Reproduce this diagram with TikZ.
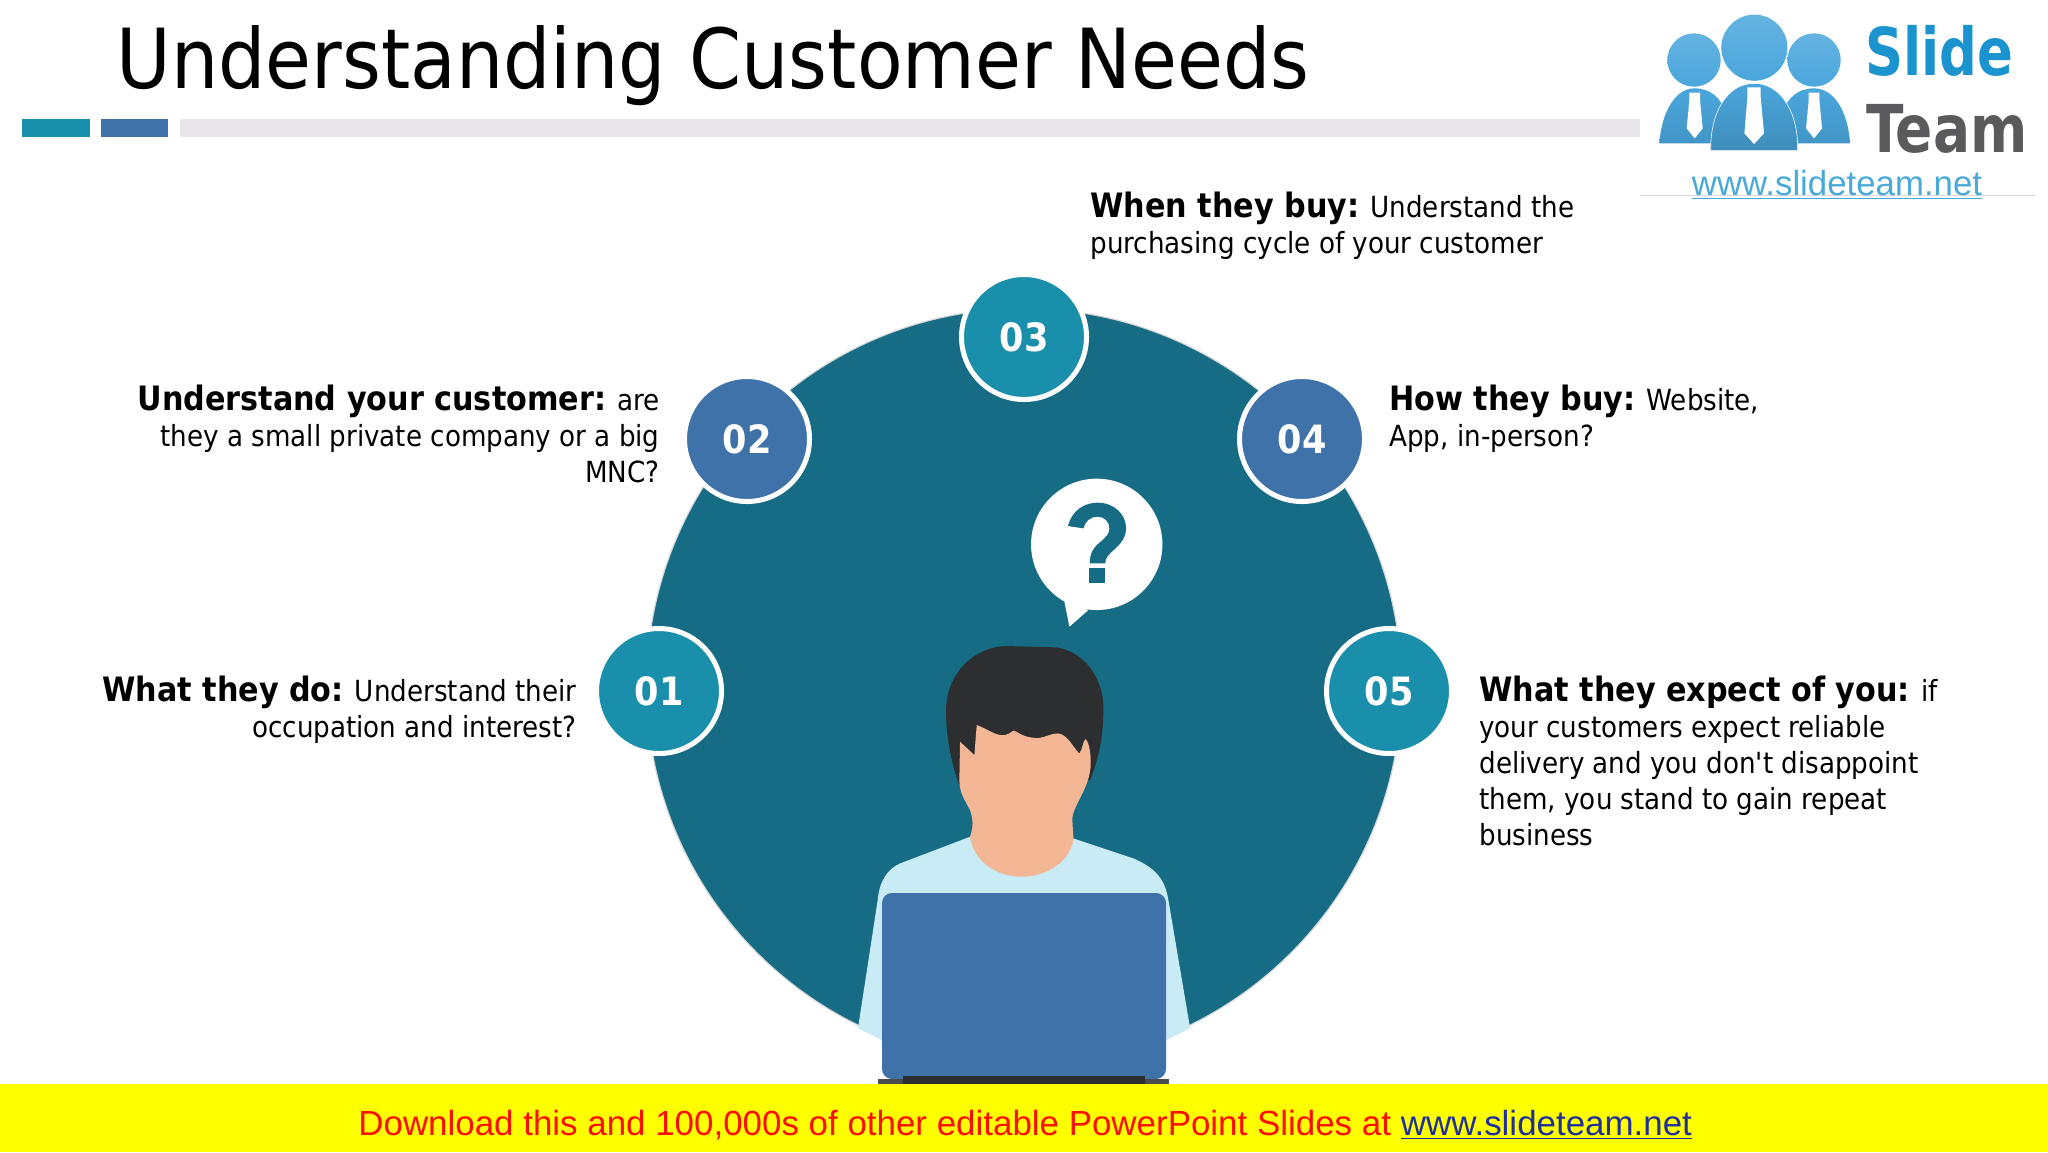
\documentclass[tikz,border=0pt]{standalone}
\usepackage{fontspec}
\setmainfont[Ligatures=TeXOff]{DejaVu Sans Condensed}
\newfontfamily\boldface[Ligatures=TeXOff]{DejaVu Sans Condensed Bold}
\newfontfamily\arialf{Liberation Sans}
\usetikzlibrary{calc}
\definecolor{teal1}{HTML}{156C84}
\definecolor{teal2}{HTML}{1A8FAB}
\definecolor{blue2}{HTML}{3F72A8}
\definecolor{grayb}{HTML}{E8E6EA}
\definecolor{shirt}{HTML}{C9EBF6}
\definecolor{skin}{HTML}{F4B796}
\definecolor{hair}{HTML}{2D2E30}
\definecolor{logob}{HTML}{4AA6DC}
\definecolor{logot}{HTML}{1B93CF}
\definecolor{logog}{HTML}{5A5A5C}
\definecolor{linkc}{HTML}{1F2F9E}
\definecolor{bary}{rgb}{1,1,0}
\definecolor{barr}{rgb}{1,0.05,0}
\tikzset{
  x=0.5pt,y=-0.5pt,
  numnode/.style={circle,minimum size=62.5pt,inner sep=0pt,line width=2.5pt,draw=white,text=white,font=\boldface\fontsize{19.5}{22}\selectfont},
  numa/.style={numnode,fill=teal2},
  numb/.style={numnode,fill=blue2},
  para/.style={inner sep=0pt,font=\fontsize{14.55}{18}\selectfont},
  lpara/.style={para,align=left,anchor=north west},
  rpara/.style={para,align=right,anchor=north east},
}
\newcommand{\hd}[1]{{\boldface\fontsize{16.8}{18}\selectfont #1}}
\begin{document}
\begin{tikzpicture}
\useasboundingbox (0,0) rectangle (2048,1152);
\fill[white] (0,0) rectangle (2048,1152);
% header
\node[anchor=base west,inner sep=0pt,font=\fontsize{41.45}{48}\selectfont] (title) at (116,88) {Understanding Customer Needs};
\fill[grayb] (180,119) rectangle (1640,137);
\fill[teal2] (22,119) rectangle (90,137);
\fill[blue2] (101,119) rectangle (168,137);
% big disc
\node[circle,minimum size=377.5pt,inner sep=0pt,fill=teal1,draw=black!15,line width=0.6pt] (disc) at (1024,686) {};
% person
\begin{scope}[shift={(840,460)},x=0.1667pt,y=-0.1667pt]
 % bubble
 \fill[white] (770,253) circle[radius=197*0.1667pt];
 \fill[white] (672,420) -- (688,500) -- (745,450) -- cycle;
 % question mark
 \fill[teal1] (684,198) .. controls (695,150) and (735,128) .. (772,128)
   .. controls (825,128) and (858,165) .. (858,205)
   .. controls (858,240) and (830,262) .. (812,278)
   .. controls (800,290) and (796,298) .. (796,310)
   -- (749,310) .. controls (749,285) and (755,268) .. (778,248)
   .. controls (800,230) and (808,220) .. (808,205)
   .. controls (808,185) and (793,170) .. (772,170)
   .. controls (750,170) and (735,185) .. (730,205) -- cycle;
 \fill[teal1] (748,323) rectangle (796,370);
 % shirt
 \fill[shirt] (390,1130) -- (180,1210) .. controls (140,1228) and (118,1265) .. (113,1320)
   -- (54,1704) -- (126,1740) -- (978,1740) -- (1050,1704) -- (985,1320)
   .. controls (975,1260) and (950,1225) .. (880,1195) -- (700,1135) -- cycle;
 % hair
 \fill[hair] (358,975) .. controls (330,900) and (318,820) .. (318,750)
   .. controls (320,640) and (400,560) .. (500,558)
   -- (650,562) .. controls (730,575) and (790,650) .. (790,745)
   .. controls (790,830) and (775,900) .. (750,960) -- cycle;
 % face
 \fill[skin] (360,845) -- (403,885) -- (410,795)
   .. controls (440,805) and (470,830) .. (495,825)
   .. controls (510,822) and (515,812) .. (522,812)
   .. controls (535,815) and (545,832) .. (590,834)
   .. controls (615,834) and (635,818) .. (655,820)
   .. controls (685,825) and (700,865) .. (718,880)
   .. controls (728,870) and (728,840) .. (737,837)
   .. controls (748,850) and (752,880) .. (752,910)
   .. controls (752,980) and (697,1040) .. (697,1075)
   .. controls (697,1100) and (700,1120) .. (700,1140)
   .. controls (690,1200) and (625,1250) .. (545,1250)
   .. controls (465,1250) and (400,1200) .. (390,1130)
   .. controls (400,1100) and (400,1080) .. (390,1050)
   .. controls (375,1020) and (358,1000) .. (358,960) -- cycle;
\end{scope}
% laptop
\fill[blue2,rounded corners=10*0.5pt] (882,893) rectangle (1166,1079);
\fill[hair!85!white] (878,1079) rectangle (1169,1084);
\fill[hair] (903,1076) rectangle (1145,1084);
% numbers
\node[numa] (n1) at (659,691) {01};
\node[numb] (n2) at (747,439) {02};
\node[numa] (n3) at (1024,337) {03};
\node[numb] (n4) at (1302,439) {04};
\node[numa] (n5) at (1389,691) {05};
% texts
\node[rpara] (t1) at (577,676) {\hd{What they do:} Understand their\\occupation and interest?};
\node[rpara] (t2) at (660,385) {\hd{Understand your customer:} are\\they a small private company or a big\\MNC?};
\node[lpara] (t3) at (1090,192) {\hd{When they buy:} Understand the\\purchasing cycle of your customer};
\node[lpara] (t4) at (1389,385) {\hd{How they buy:} Website,\\App, in-person?};
\node[lpara] (t5) at (1479,676) {\hd{What they expect of you:} if\\your customers expect reliable\\delivery and you don't disappoint\\them, you stand to gain repeat\\business};
% logo
\fill[white] (1640,0) rectangle (2040,195);
\draw[black!15,line width=0.5pt] (1640,195) -- (2036,195);
\begin{scope}[shift={(1620,0)},x=0.1667pt,y=-0.1667pt]
 \shade[top color=logob,bottom color=logob!90!black] (118,430) .. controls (125,330) and (170,265) .. (222,265) .. controls (270,265) and (300,290) .. (320,340) -- (300,430) -- cycle;
 \shade[top color=logob,bottom color=logob!90!black] (690,430) .. controls (683,330) and (640,265) .. (582,265) .. controls (535,265) and (505,290) .. (485,340) -- (500,430) -- cycle;
 \shade[top color=logob,bottom color=logob!85!black,draw=white,line width=0.3pt] (272,452) .. controls (270,340) and (320,250) .. (402,250) .. controls (485,250) and (535,340) .. (533,452) -- cycle;
 \shade[top color=logob!85!white,bottom color=logob] (222,180) circle[radius=80*0.1667pt];
 \shade[top color=logob!85!white,bottom color=logob] (582,180) circle[radius=80*0.1667pt];
 \shade[top color=logob!85!white,bottom color=logob,draw=white,line width=0.2pt] (403,143) circle[radius=100*0.1667pt];
 \fill[white] (208,278) -- (240,278) -- (240,300) -- (248,385) -- (224,415) -- (200,385) -- (208,300) -- cycle;
 \fill[white] (382,262) -- (422,262) -- (422,292) -- (432,400) -- (402,432) -- (373,400) -- (382,292) -- cycle;
 \fill[white] (566,278) -- (598,278) -- (598,300) -- (606,385) -- (582,415) -- (558,385) -- (566,300) -- cycle;
\end{scope}
\node[anchor=base west,inner sep=0pt,text=logot,font=\boldface\fontsize{33}{36}\selectfont] (lg1) at (1865,75) {\scalebox{0.89}[1]{Slide}};
\node[anchor=base west,inner sep=0pt,text=logog,font=\boldface\fontsize{33}{36}\selectfont] (lg2) at (1866,152) {\scalebox{0.925}[1]{Team}};
\node[anchor=base,inner sep=0pt,text=logot!80!white,font=\arialf\fontsize{17.4}{20}\selectfont] (lg3) at (1837,195) {\underline{www.slideteam.net}};
% footer
\fill[bary] (0,1084) rectangle (2048,1152);
\node[anchor=base west,inner sep=0pt,text=barr,font=\arialf\fontsize{17.46}{20}\selectfont] (foot) at (358,1135) {Download this and 100,000s of other editable PowerPoint Slides at \textcolor{linkc}{\underline{www.slideteam.net}}};
\end{tikzpicture}
\end{document}
